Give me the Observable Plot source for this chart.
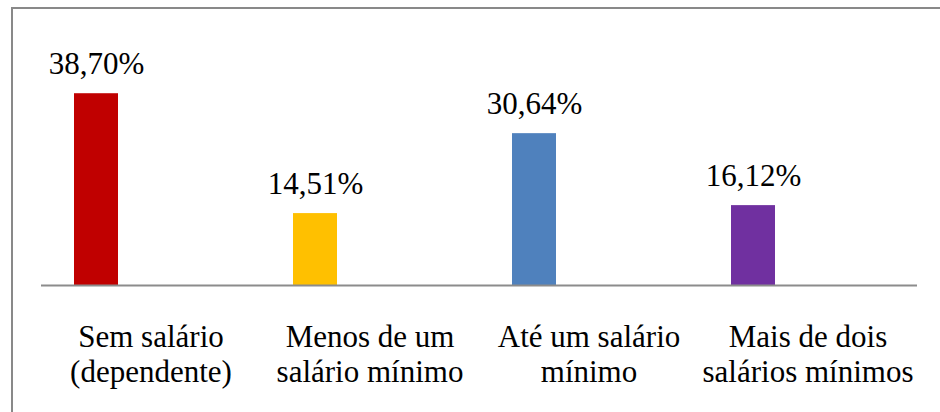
<!DOCTYPE html>
<html>
<head>
<meta charset="utf-8">
<script src="https://cdn.jsdelivr.net/npm/d3@7"></script>
<script src="https://cdn.jsdelivr.net/npm/@observablehq/plot@0.6"></script>
</head>
<body style="margin:0;padding:0;background:#fff">
<div id="wrap" style="position:relative;width:940px;height:412px;overflow:hidden">
  <div id="frame" style="position:absolute;left:11px;top:7px;width:1000px;height:1000px;border-left:2px solid #898989;border-top:2px solid #898989;pointer-events:none"></div>
</div>
<script>
const categories = ["Sem salário\n(dependente)", "Menos de um\nsalário mínimo", "Até um salário\nmínimo", "Mais de dois\nsalários mínimos"];
const values = [38.70, 14.51, 30.64, 16.12];
const colors = ["#C00000", "#FFC000", "#4F81BD", "#7030A0"];

const data = categories.map((c, i) => ({category: c, value: values[i], color: colors[i]}));
const fmt = v => v.toFixed(2).replace(".", ",") + "%";
const serif = "'Liberation Serif', Tinos, 'Times New Roman', serif";

const chart = Plot.plot({
  width: 940,
  height: 412,
  marginLeft: 41,
  marginRight: 23,
  marginTop: 62,
  marginBottom: 127,
  style: {fontFamily: serif},
  x: {domain: categories, padding: 0, label: null},
  y: {domain: [0, 45], axis: null},
  marks: [
    Plot.barY(data, {x: "category", y: "value", fill: "color", insetLeft: 33, insetRight: 142}),
    Plot.ruleY([0], {stroke: "#8c8c8c", strokeWidth: 2}),
    Plot.text(data, {x: "category", y: "value", text: d => fmt(d.value), dx: -54.5, dy: -20,
      lineAnchor: "bottom", fontSize: 31, fontFamily: serif}),
    Plot.axisX({tickSize: 0, tickPadding: 37, fontSize: 31, fontFamily: serif, lineHeight: 1.12, label: null})
  ]
});
d3.select(chart).attr("font-family", serif).style("font-family", serif);
d3.select(chart).selectAll("g, text, tspan").attr("font-family", serif).style("font-family", serif);
document.getElementById("wrap").prepend(chart);
</script>
</body>
</html>
